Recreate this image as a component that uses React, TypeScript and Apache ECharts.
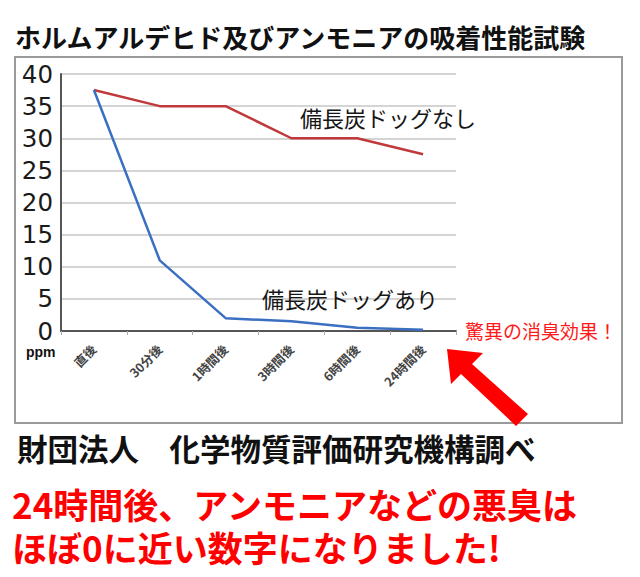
import React, { useEffect, useRef } from 'react';
import * as echarts from 'echarts';

// time points after start of the test
const categories = ['直後', '30分後', '1時間後', '3時間後', '6時間後', '24時間後'];

// ppm readings
const withoutDog = [37.5, 35, 35, 30, 30, 27.5];
const withDog = [37.5, 11, 2, 1.5, 0.5, 0.2];

const yMin = 0;
const yMax = 40;
const yStep = 5;

const FONT = '"Noto Sans CJK JP", "Noto Sans", sans-serif';

const App: React.FC = () => {
  const chartRef = useRef<HTMLDivElement>(null);

  useEffect(() => {
    if (!chartRef.current) return;
    const chart = echarts.init(chartRef.current, undefined, { renderer: 'svg' });

    const option: echarts.EChartsOption = {
      animation: false,
      backgroundColor: '#ffffff',
      grid: {
        left: 61,
        right: 184,
        top: 74,
        bottom: 246,
        containLabel: false
      },
      xAxis: {
        type: 'category',
        data: categories,
        boundaryGap: true,
        axisLine: { show: true, lineStyle: { color: '#555555', width: 2 } },
        axisTick: { show: true, length: 4, lineStyle: { color: '#aaaaaa', width: 1 } },
        axisLabel: {
          rotate: 45,
          margin: 16,
          fontSize: 12.5,
          fontWeight: 'bold',
          color: '#444444',
          fontFamily: FONT
        },
        splitLine: { show: false }
      },
      yAxis: {
        type: 'value',
        min: yMin,
        max: yMax,
        interval: yStep,
        axisLine: { show: true, lineStyle: { color: '#555555', width: 2 } },
        axisTick: { show: false },
        axisLabel: {
          margin: 8,
          fontSize: 24.5,
          color: '#1a1a1a',
          fontFamily: '"DejaVu Sans", "Liberation Sans", sans-serif'
        },
        splitLine: { show: true, lineStyle: { color: '#d4d4d4', width: 2 } }
      },
      series: [
        {
          name: '備長炭ドッグなし',
          type: 'line',
          data: withoutDog,
          showSymbol: false,
          lineStyle: { color: '#c0393b', width: 2.5 },
          itemStyle: { color: '#c0393b' },
          z: 3
        },
        {
          name: '備長炭ドッグあり',
          type: 'line',
          data: withDog,
          showSymbol: false,
          lineStyle: { color: '#3b6fc2', width: 2.5 },
          itemStyle: { color: '#3b6fc2' },
          z: 4
        }
      ],
      graphic: [
        {
          type: 'rect',
          z: 0,
          shape: { x: 15, y: 57, width: 607, height: 366 },
          style: { fill: 'transparent', stroke: '#9a9a9a', lineWidth: 2 }
        },
        {
          type: 'text',
          x: 15,
          y: 36,
          style: {
            text: 'ホルムアルデヒド及びアンモニアの吸着性能試験',
            fontSize: 26,
            fontWeight: 'bold',
            fontFamily: FONT,
            fill: '#111111',
            verticalAlign: 'middle'
          }
        },
        {
          type: 'text',
          x: 26,
          y: 352,
          style: {
            text: 'ppm',
            fontSize: 14,
            fontWeight: 'bold',
            fontFamily: '"Liberation Sans", sans-serif',
            fill: '#111111',
            verticalAlign: 'middle'
          }
        },
        {
          type: 'text',
          x: 300,
          y: 117,
          z: 10,
          style: {
            text: '備長炭ドッグなし',
            fontSize: 22,
            fontFamily: FONT,
            fill: '#161616',
            verticalAlign: 'middle'
          }
        },
        {
          type: 'text',
          x: 262,
          y: 298,
          z: 10,
          style: {
            text: '備長炭ドッグあり',
            fontSize: 22,
            fontFamily: FONT,
            fill: '#161616',
            verticalAlign: 'middle'
          }
        },
        {
          type: 'text',
          x: 465,
          y: 330,
          style: {
            text: '驚異の消臭効果！',
            fontSize: 19,
            fontFamily: FONT,
            fill: '#ff1a1a',
            verticalAlign: 'middle'
          }
        },
        {
          type: 'polygon',
          z: 20,
          shape: {
            points: [
              [447, 349],
              [483, 353],
              [472, 364],
              [528, 414],
              [516, 426],
              [461, 374],
              [451, 384]
            ]
          },
          style: { fill: '#ff0000' }
        },
        {
          type: 'text',
          x: 17,
          y: 448,
          style: {
            text: '財団法人　化学物質評価研究機構調べ',
            fontSize: 30.5,
            fontWeight: 'bold',
            fontFamily: FONT,
            fill: '#111111',
            verticalAlign: 'middle'
          }
        },
        {
          type: 'text',
          x: 12,
          y: 525,
          style: {
            text: '24時間後、アンモニアなどの悪臭は\nほぼ0に近い数字になりました!',
            fontSize: 35,
            lineHeight: 43,
            fontWeight: 'bold',
            fontFamily: FONT,
            fill: '#ff0000',
            verticalAlign: 'middle'
          }
        }
      ]
    };

    chart.setOption(option);

    return () => {
      chart.dispose();
    };
  }, []);

  return (
    <div
      ref={chartRef}
      style={{ position: 'absolute', left: 0, top: 0, width: 640, height: 577 }}
    />
  );
};

export default App;
